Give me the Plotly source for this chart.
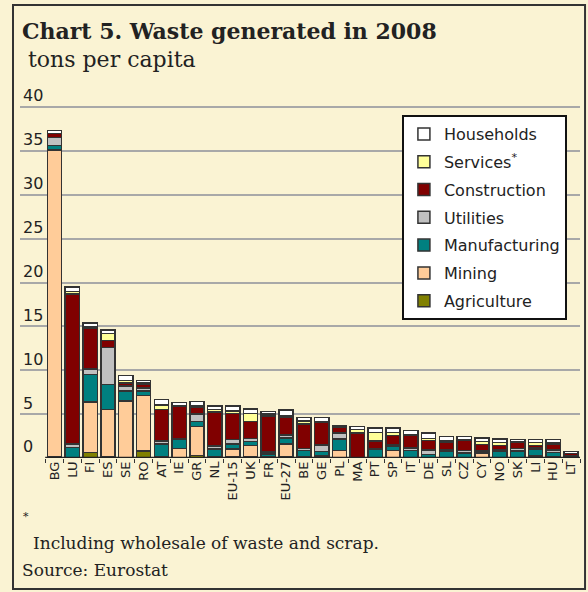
import plotly.graph_objects as go

# countries along the x axis
countries = ["BG", "LU", "FI", "ES", "SE", "RO", "AT", "IE", "GR", "NL",
             "EU-15", "UK", "FR", "EU-27", "BE", "GE", "PL", "MA", "PT", "SP",
             "IT", "DE", "SL", "CZ", "CY", "NO", "SK", "LI", "HU", "LT"]

# tons per capita, by sector
agriculture = [0.1, 0.0, 0.6, 0.15, 0.0, 0.8, 0.1, 0.0, 0.3, 0.1,
               0.1, 0.1, 0.05, 0.1, 0.1, 0.0, 0.0, 0.0, 0.0, 0.0,
               0.05, 0.05, 0.0, 0.05, 0.0, 0.0, 0.05, 0.25, 0.1, 0.0]
mining = [35.0, 0.0, 5.8, 5.35, 6.5, 6.3, 0.0, 1.1, 3.3, 0.1,
          0.9, 1.35, 0.05, 1.5, 0.0, 0.25, 0.85, 0.0, 0.0, 0.85,
          0.0, 0.0, 0.0, 0.0, 0.55, 0.0, 0.0, 0.05, 0.1, 0.0]
manufacturing = [0.5, 1.2, 3.1, 2.9, 1.15, 0.55, 1.5, 1.0, 0.55, 0.8,
                 0.6, 0.45, 0.35, 0.7, 0.75, 0.5, 1.3, 0.0, 0.95, 0.45,
                 0.8, 0.35, 0.8, 0.5, 0.15, 0.8, 0.75, 0.75, 0.45, 0.2]
utilities = [0.9, 0.4, 0.65, 4.2, 0.55, 0.3, 0.35, 0.1, 0.85, 0.35,
             0.5, 0.35, 0.25, 0.3, 0.25, 0.75, 0.7, 0.0, 0.15, 0.2,
             0.3, 0.5, 0.15, 0.3, 0.1, 0.1, 0.3, 0.15, 0.25, 0.1]
construction = [0.5, 17.1, 4.65, 0.8, 0.35, 0.4, 3.6, 3.7, 0.75, 3.9,
                3.0, 1.9, 4.1, 2.1, 2.8, 2.6, 0.7, 2.85, 0.85, 1.05,
                1.4, 1.1, 0.85, 1.15, 0.75, 0.5, 0.7, 0.2, 0.65, 0.2]
services = [0.0, 0.25, 0.2, 0.8, 0.3, 0.2, 0.5, 0.1, 0.2, 0.3,
            0.25, 0.9, 0.2, 0.15, 0.3, 0.05, 0.05, 0.4, 0.95, 0.35,
            0.1, 0.25, 0.2, 0.1, 0.35, 0.35, 0.1, 0.35, 0.15, 0.0]
households = [0.3, 0.55, 0.4, 0.4, 0.55, 0.3, 0.6, 0.3, 0.5, 0.4,
              0.55, 0.55, 0.3, 0.6, 0.4, 0.45, 0.1, 0.35, 0.5, 0.5,
              0.5, 0.6, 0.45, 0.35, 0.4, 0.4, 0.2, 0.35, 0.4, 0.25]

sectors = [
    ("Agriculture", agriculture, "#808000"),
    ("Mining", mining, "#FFCC99"),
    ("Manufacturing", manufacturing, "#008080"),
    ("Utilities", utilities, "#C0C0C0"),
    ("Construction", construction, "#800000"),
    ("Services<sup>*</sup>", services, "#FFFF99"),
    ("Households", households, "#FFFFFF"),
]

y_ticks = [0, 5, 10, 15, 20, 25, 30, 35, 40]

BG = "#FAF3D3"
SERIF = "DejaVu Serif"
SANS = "DejaVu Sans"

fig = go.Figure()

for i, (name, values, color) in enumerate(sectors):
    fig.add_trace(
        go.Bar(
            x=countries,
            y=values,
            name=name,
            legendgroup=str(i),
            legendrank=10 - i,  # households on top of the legend
            width=0.8,
            marker=dict(color=color, line=dict(color="#333333", width=1.5)),
        )
    )

# text around the plot area
fig.add_annotation(
    text="<b>Chart 5. Waste generated in 2008</b>",
    xref="paper", yref="paper", x=0.0, y=1.1062,
    xanchor="left", yanchor="middle", showarrow=False,
    font=dict(family=SERIF, size=22, color="#222222"),
)
fig.add_annotation(
    text="tons per capita",
    xref="paper", yref="paper", x=0.011, y=1.0311,
    xanchor="left", yanchor="middle", showarrow=False,
    font=dict(family=SERIF, size=22, color="#222222"),
)
fig.add_annotation(
    text="*",
    xref="paper", yref="paper", x=0.002, y=-0.1528,
    xanchor="left", yanchor="middle", showarrow=False,
    font=dict(family=SERIF, size=11, color="#222222"),
)
fig.add_annotation(
    text="Including wholesale of waste and scrap.",
    xref="paper", yref="paper", x=0.019, y=-0.2202,
    xanchor="left", yanchor="middle", showarrow=False,
    font=dict(family=SERIF, size=17, color="#222222"),
)
fig.add_annotation(
    text="Source: Eurostat",
    xref="paper", yref="paper", x=0.0, y=-0.2902,
    xanchor="left", yanchor="middle", showarrow=False,
    font=dict(family=SERIF, size=17, color="#222222"),
)

# outer frame and base line
fig.add_shape(
    type="rect", xref="paper", yref="paper",
    x0=-0.0125, x1=1.009, y0=-0.3394, y1=1.1736,
    line=dict(color="#333333", width=2),
)
fig.add_shape(
    type="line", xref="paper", yref="y",
    x0=0.045, x1=1.0, y0=0, y1=0,
    line=dict(color="#222222", width=2.5),
)

fig.update_layout(
    width=588,
    height=592,
    barmode="stack",
    bargap=0.2,
    paper_bgcolor=BG,
    plot_bgcolor=BG,
    margin=dict(l=20, r=8, t=72, b=134, autoexpand=False),
    xaxis=dict(
        range=[-1.94, 29.5],
        tickangle=-90,
        tickfont=dict(family=SANS, size=13, color="#222222"),
        ticks="outside",
        tickson="boundaries",
        ticklen=4,
        tickcolor="#333333",
        showgrid=False,
        showline=False,
        zeroline=False,
        automargin=False,
    ),
    yaxis=dict(
        range=[0, 43.99],
        tickvals=y_ticks,
        ticklabelposition="inside top",
        tickfont=dict(family=SANS, size=16, color="#222222"),
        showgrid=True,
        gridcolor="#A8A8A8",
        gridwidth=2,
        zeroline=False,
        showline=False,
        automargin=False,
    ),
    legend=dict(
        x=0.682, y=0.8886, xanchor="left", yanchor="top",
        bgcolor="#FFFFFF",
        bordercolor="#111111",
        borderwidth=2,
        traceorder="grouped",
        tracegroupgap=4,
        font=dict(family=SANS, size=16, color="#222222"),
    ),
)

# the default page body has an 8px margin; drop it so the figure sits at 0,0
fig.write_html(
    "out.html",
    config={"displayModeBar": False},
    post_script="document.body.style.margin='0';",
)
